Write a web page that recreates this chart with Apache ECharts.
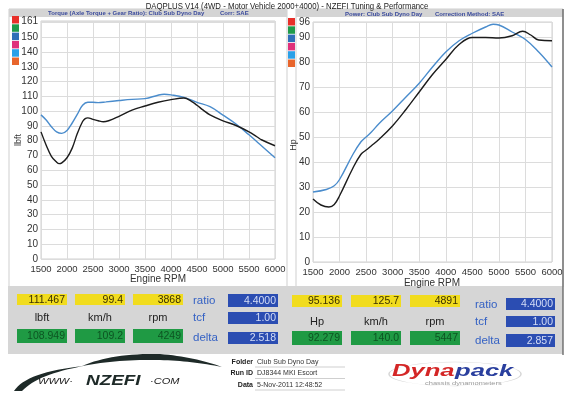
<!DOCTYPE html>
<html><head><meta charset="utf-8">
<script src="https://cdn.jsdelivr.net/npm/echarts@6/dist/echarts.min.js"></script>
<style>html,body{margin:0;padding:0;background:#fff}#c{width:576px;height:393px}</style>
</head><body><div id="c"></div>
<script>
// ---------- data ----------
const mainTitle = 'DAQPLUS V14 (4WD - Motor Vehicle 2000+4000) - NZEFI Tuning & Performance';
const torqueTitle = 'Torque (Axle Torque + Gear Ratio): Club Sub Dyno Day';
const torqueCorr = 'Corr: SAE';
const powerTitle = 'Power: Club Sub Dyno Day';
const powerCorr = 'Correction Method: SAE';
const xAxisName = 'Engine RPM';
const legendColors = ['#e8302a', '#1f9a4a', '#2f6fb8', '#e0307a', '#2aa0e8', '#e8652c'];

const tqBlueRpm = [1500,1600,1700,1800,1900,2000,2100,2200,2300,2400,2500,2600,2750,3000,3250,3500,3750,3868,4000,4250,4500,4750,5000,5250,5500,5750,6000];
const tqBlue    = [97.5,94,89.5,86,85,87,92,98,104,106,106,105.8,106.3,107.2,108,108.5,110.8,111.4,111,109.3,106,103,97.3,91.3,84,76.3,68.5];
const tqBlackRpm = [1500,1600,1700,1800,1850,1900,2000,2100,2200,2300,2350,2400,2500,2600,2700,2800,3000,3250,3500,3750,4000,4249,4400,4500,4620,4750,5000,5250,5500,5650,5750,6000];
const tqBlack    = [86,77,69.5,65.5,64.5,65,68.5,75,85,93,95,95.5,94.5,93.5,92.8,93.5,96.5,100.7,103.5,106,107.8,108.9,106.5,104,100.7,97.5,93.5,90.3,86,82.7,80.5,76.6];

const pwBlueRpm = [1500,1750,1900,2000,2250,2400,2500,2600,2750,3000,3250,3500,3750,4000,4250,4500,4750,4891,5000,5250,5500,5750,6000];
const pwBlue    = [28,29,30.5,33,43,48,50,52,55.5,60.5,66,71.5,78,84,88.5,91.5,94,95.1,94.8,92,89,84,78];
const pwBlackRpm = [1500,1650,1800,1900,2000,2250,2400,2500,2600,2750,3000,3250,3500,3750,4000,4250,4500,4750,5000,5250,5447,5600,5750,6000];
const pwBlack    = [25.2,22.8,22,23,26.5,37.5,43,44.8,46.5,49.2,54.5,61,68,75,81,87,89.8,89.8,89.6,90.5,92.3,90.8,88.8,88.5];

const leftTopValues = ['111.467', '99.4', '3868'];
const leftBottomValues = ['108.949', '109.2', '4249'];
const leftUnits = ['lbft', 'km/h', 'rpm'];
const leftRatio = ['4.4000', '1.00', '2.518'];
const rightTopValues = ['95.136', '125.7', '4891'];
const rightBottomValues = ['92.279', '140.0', '5447'];
const rightUnits = ['Hp', 'km/h', 'rpm'];
const rightRatio = ['4.4000', '1.00', '2.857'];
const ratioLabels = ['ratio', 'tcf', 'delta'];
const infoLabels = ['Folder', 'Run ID', 'Data'];
const infoValues = ['Club Sub Dyno Day', 'DJ8344 MKI Escort', '5-Nov-2011 12:48:52'];

// ---------- helpers ----------
const FONT = 'Liberation Sans, Arial, sans-serif';
const zip = (xs, ys) => xs.map((x, i) => [x, ys[i]]);
const g = [];
function rect(x, y, w, h, fill, stroke, z) {
  g.push({type: 'rect', z: z == null ? -10 : z, shape: {x, y, width: w, height: h},
          style: {fill: fill, stroke: stroke || null, lineWidth: 1}, silent: true});
}
function text(x, y, t, font, fill, align, vAlign, extra) {
  g.push(Object.assign({type: 'text', z: 10, x, y,
    style: {text: t, font: font, fill: fill, align: align || 'left', verticalAlign: vAlign || 'middle'}, silent: true}, extra || {}));
}
// sample quadratic bezier segments into polygon points (logo shapes only)
function quadPts(p0, c, p1, n) {
  const pts = [];
  for (let i = 0; i <= n; i++) {
    const t = i / n, u = 1 - t;
    pts.push([u * u * p0[0] + 2 * u * t * c[0] + t * t * p1[0], u * u * p0[1] + 2 * u * t * c[1] + t * t * p1[1]]);
  }
  return pts;
}
function shape(segs, fill) {
  let pts = [];
  segs.forEach(s => { pts = pts.concat(quadPts(s[0], s[1], s[2], 16)); });
  g.push({type: 'polygon', z: 2, shape: {points: pts}, style: {fill: fill}, silent: true});
}

// panels / frames
rect(9, 9, 278, 278, '#fff', '#cfcfcf');
rect(296, 9, 267, 278, '#fff', '#cfcfcf');
rect(9, 9, 278, 8, '#d4d4d4');
rect(296, 9, 267, 8, '#d4d4d4');
g.push({type: 'line', z: -5, shape: {x1: 563, y1: 9, x2: 563, y2: 355}, style: {stroke: '#555', lineWidth: 1.2}, silent: true});
// data panel
rect(8, 286, 555, 68, '#d6d6d6');

// titles
text(287, 6, mainTitle, '9.5px ' + FONT, '#222', 'center', 'middle', {scaleX: 0.82});
text(48, 13, torqueTitle, 'bold 6px ' + FONT, '#3a4a9c', 'left', 'middle');
text(220, 13, torqueCorr, 'bold 6px ' + FONT, '#3a4a9c', 'left', 'middle');
text(345, 14, powerTitle, 'bold 6px ' + FONT, '#3a4a9c', 'left', 'middle');
text(435, 14, powerCorr, 'bold 6px ' + FONT, '#3a4a9c', 'left', 'middle');

// legend squares
legendColors.forEach((c, i) => {
  rect(12, 16 + i * 8.3, 7, 7.5, c, null, 5);
  rect(288, 18 + i * 8.3, 7, 7.5, c, null, 5);
});

// axis names
text(158, 279, xAxisName, '10px ' + FONT, '#333', 'center', 'middle');
text(432, 283, xAxisName, '10px ' + FONT, '#333', 'center', 'middle');
text(19, 140, 'lbft', '9px ' + FONT, '#333', 'center', 'middle', {rotation: Math.PI / 2});
text(294, 145, 'Hp', '9px ' + FONT, '#333', 'center', 'middle', {rotation: Math.PI / 2});

// data table boxes
function valueBox(x, y, w, h, val, fill, txt) {
  rect(x, y, w, h, fill, null, 1);
  text(x + w - 2, y + h / 2 + 0.5, val, '10.5px ' + FONT, txt, 'right', 'middle');
}
const lx = [17, 75, 133], rx = [292, 351, 410];
leftTopValues.forEach((v, i) => valueBox(lx[i], 294, 50, 11, v, '#f1dc1e', '#3a3000'));
leftBottomValues.forEach((v, i) => valueBox(lx[i], 329, 50, 14, v, '#1f9a44', '#0d5422'));
leftUnits.forEach((u, i) => text(lx[i] + 25, 318, u, '11px ' + FONT, '#222', 'center', 'middle'));
rightTopValues.forEach((v, i) => valueBox(rx[i], 295, 50, 12, v, '#f1dc1e', '#3a3000'));
rightBottomValues.forEach((v, i) => valueBox(rx[i], 331, 50, 14, v, '#1f9a44', '#0d5422'));
rightUnits.forEach((u, i) => text(rx[i] + 25, 322, u, '11px ' + FONT, '#222', 'center', 'middle'));
const lry = [[294, 13], [312, 12], [332, 12]];
const rry = [[298, 12], [316, 11], [334, 13]];
ratioLabels.forEach((t, i) => {
  text(193, [301, 318, 338][i], t, '11.5px ' + FONT, '#3562c4', 'left', 'middle');
  valueBox(228, lry[i][0], 50, lry[i][1], leftRatio[i], '#2b4db2', '#d4ddf6');
  text(475, [305, 322, 341][i], t, '11.5px ' + FONT, '#3562c4', 'left', 'middle');
  valueBox(506, rry[i][0], 49, rry[i][1], rightRatio[i], '#2b4db2', '#d4ddf6');
});

// info fields
infoLabels.forEach((t, i) => {
  const y = 362 + i * 11.5;
  text(253, y, t, 'bold 7px ' + FONT, '#222', 'right', 'middle');
  text(257, y, infoValues[i], '7px ' + FONT, '#333', 'left', 'middle');
  g.push({type: 'line', z: 1, shape: {x1: 255, y1: y + 5, x2: 345, y2: y + 5}, style: {stroke: '#cfcfcf', lineWidth: 1}, silent: true});
});

// NZEFI logo
shape([[[14, 391], [26, 372], [84, 366]], [[84, 366], [38, 374], [22, 391]]], '#1e2a28');
shape([[[82, 366], [112, 353], [160, 354]], [[160, 354], [195, 357], [222, 367]], [[222, 367], [192, 361], [160, 360]], [[160, 360], [118, 359], [82, 366]]], '#1e2a28');
text(38, 382, 'WWW·', 'italic 8.5px ' + FONT, '#222', 'left', 'middle', {scaleX: 1.3});
text(86, 381, 'NZEFI', 'bold italic 14px ' + FONT, '#1e2a28', 'left', 'middle', {scaleX: 1.35});
text(150, 382, '·COM', 'italic 8.5px ' + FONT, '#222', 'left', 'middle', {scaleX: 1.3});

// Dynapack logo
g.push({type: 'circle', z: 1, x: 455, y: 374, scaleY: 12 / 66, shape: {cx: 0, cy: 0, r: 66},
        style: {fill: null, stroke: '#d6d6d6', lineWidth: 1.5, strokeNoScale: true}, silent: true});
text(392, 372, 'Dyna', 'bold italic 16px ' + FONT, '#d42626', 'left', 'middle', {scaleX: 1.6});
text(455, 372, 'pack', 'bold italic 16px ' + FONT, '#2a3f9e', 'left', 'middle', {scaleX: 1.6});
text(425, 384, 'chassis dynamometers', '5px ' + FONT, '#999', 'left', 'middle', {scaleX: 1.5});

// ---------- chart ----------
const axisLabel = {color: '#333', fontSize: 9.5, fontFamily: FONT, formatter: v => String(v)};
function xAx(gi) {
  return {type: 'value', gridIndex: gi, min: 1500, max: 6000, interval: 500,
    axisLine: {show: false}, axisTick: {show: false},
    axisLabel: Object.assign({margin: 5, showMinLabel: true, showMaxLabel: true}, axisLabel),
    splitLine: {show: true, lineStyle: {color: '#dcdcdc', width: 1}}};
}
function yAx(gi, max, hide) {
  return {type: 'value', gridIndex: gi, min: 0, max: max, interval: 10,
    axisLine: {show: false}, axisTick: {show: false},
    axisLabel: Object.assign({}, axisLabel, {margin: 3, showMaxLabel: true, fontSize: 10, formatter: v => (v === hide ? '' : String(v))}),
    splitLine: {show: true, lineStyle: {color: '#dcdcdc', width: 1}}};
}
const line = (name, xi, data, color) => ({name, type: 'line', xAxisIndex: xi, yAxisIndex: xi, data, smooth: 0.4,
  showSymbol: false, symbol: 'none', lineStyle: {color, width: 1.4}, itemStyle: {color}, z: 3});

const chart = echarts.init(document.getElementById('c'), null, {renderer: 'canvas'});
chart.setOption({
  animation: false,
  backgroundColor: '#fff',
  grid: [
    {left: 41, top: 21, width: 234, height: 238, show: true, backgroundColor: '#fff', borderColor: '#d0d0d0', borderWidth: 1},
    {left: 313, top: 22, width: 239, height: 240, show: true, backgroundColor: '#fff', borderColor: '#d0d0d0', borderWidth: 1}
  ],
  xAxis: [xAx(0), xAx(1)],
  yAxis: [yAx(0, 161, 160), yAx(1, 96, -1)],
  series: [
    line('Torque run 2', 0, zip(tqBlueRpm, tqBlue), '#4a8ccc'),
    line('Torque run 1', 0, zip(tqBlackRpm, tqBlack), '#1c1c1c'),
    line('Power run 2', 1, zip(pwBlueRpm, pwBlue), '#4a8ccc'),
    line('Power run 1', 1, zip(pwBlackRpm, pwBlack), '#1c1c1c')
  ],
  graphic: {elements: g}
});
</script>
</body></html>
